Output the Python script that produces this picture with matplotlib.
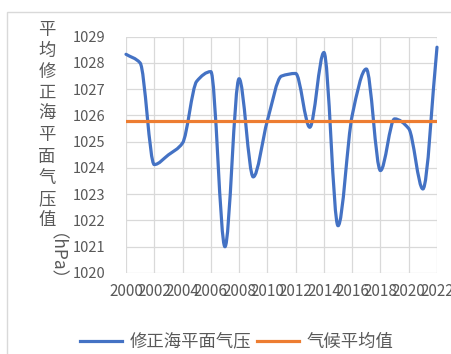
import matplotlib.pyplot as plt
import numpy as np
from matplotlib.path import Path
from matplotlib.patches import PathPatch, Rectangle
from matplotlib.lines import Line2D

plt.rcParams['font.family'] = ['Noto Sans CJK SC', 'DejaVu Sans']

# yearly mean sea level pressure (hPa)
years = list(range(2000, 2023))
pressure = [1028.33, 1028.0, 1024.13, 1024.5, 1024.95, 1027.3, 1027.67, 1021.0,
            1027.4, 1023.66, 1025.8, 1027.5, 1027.6, 1025.55, 1028.4, 1021.8,
            1026.0, 1027.77, 1023.9, 1025.87, 1025.5, 1023.2, 1028.6]
climate_mean = [1025.8] * len(years)
xticks = list(range(2000, 2023, 2))
yticks = list(range(1020, 1030))

series_name = "修正海平面气压"
mean_name = "气候平均值"
ylabel_chars = "平均修正海平面气压值"
ylabel_unit = "（hPa）"

BLUE = "#4472C4"
ORANGE = "#ED7D31"
GRAY = "#595959"
GRID = "#d9d9d9"


def smooth_path(x, y):
    """Smoothed line through every point: cubic Beziers with
    harmonic-mean slopes, flat at local peaks and troughs."""
    x = np.asarray(x, float)
    y = np.asarray(y, float)
    h = np.diff(x)
    d = np.diff(y) / h
    m = np.zeros_like(y)
    for i in range(1, len(y) - 1):
        if d[i - 1] * d[i] > 0:
            m[i] = 2 / (1 / d[i - 1] + 1 / d[i])
    m[0], m[-1] = d[0], d[-1]
    verts = [(x[0], y[0])]
    codes = [Path.MOVETO]
    for i in range(len(x) - 1):
        verts += [(x[i] + h[i] / 3, y[i] + m[i] * h[i] / 3),
                  (x[i + 1] - h[i] / 3, y[i + 1] - m[i + 1] * h[i] / 3),
                  (x[i + 1], y[i + 1])]
        codes += [Path.CURVE4] * 3
    return Path(verts, codes)


W, H = 452, 354
fig = plt.figure(figsize=(W / 100, H / 100), dpi=100)
ax = fig.add_axes([126 / W, 1 - 273 / H, (437 - 126) / W, (273 - 36.7) / H])

# outer chart border
fig.patches.append(Rectangle((7 / W, -0.1), 1.2, 1 - 12 / H + 0.1,
                             transform=fig.transFigure, fill=False,
                             edgecolor=GRID, lw=1))

ax.add_patch(PathPatch(smooth_path(years, pressure), fill=False,
                       edgecolor=BLUE, lw=2.3, capstyle='round',
                       joinstyle='round', zorder=3, clip_on=False))
ax.plot(years, climate_mean, color=ORANGE, lw=2.3, zorder=4)

ax.set_xlim(2000, 2022)
ax.set_ylim(1020, 1029)
ax.set_xticks(xticks)
ax.set_yticks(yticks)
ax.set_xticklabels([str(t) for t in xticks], fontsize=11, color=GRAY)
ax.set_yticklabels([str(t) for t in yticks], fontsize=10.5, color=GRAY)
ax.tick_params(length=0, pad=15)
ax.tick_params(axis='x', pad=7)
ax.grid(True, color=GRID, lw=0.9)
ax.set_axisbelow(True)
for s in ax.spines.values():
    s.set_visible(False)

# stacked vertical y-axis title
for i, ch in enumerate(ylabel_chars):
    fig.text(47 / W, 1 - (30 + i * 21.1) / H, ch, fontsize=12.5, color=GRAY,
             ha='center', va='center')
fig.text(47 / W, 1 - 266 / H, ylabel_unit, fontsize=12.5, color=GRAY,
         rotation=270, ha='center', va='center')

handles = [Line2D([], [], color=BLUE, lw=2.3), Line2D([], [], color=ORANGE, lw=2.3)]
fig.legend(handles, [series_name, mean_name], loc='center',
           bbox_to_anchor=(237 / W, 1 - 342 / H), ncol=2, frameon=False,
           fontsize=12.5, labelcolor=GRAY, handlelength=2.4, handletextpad=0.45,
           columnspacing=0.35, borderpad=0, borderaxespad=0)

fig.savefig("out.png", dpi=100)
